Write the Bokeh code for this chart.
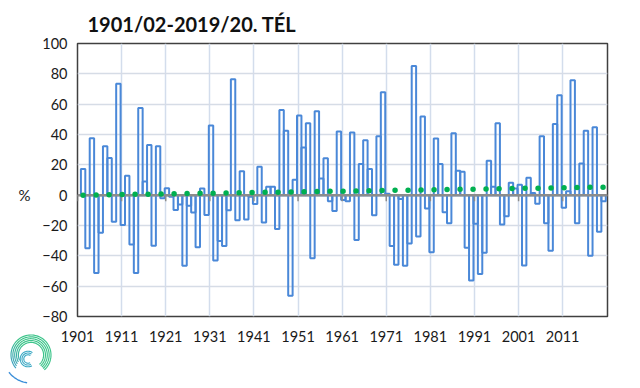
import math
from bokeh.plotting import figure
from bokeh.models import Range1d, FixedTicker, Span, ColumnDataSource, LinearAxis, Div
from bokeh.layouts import column
from bokeh.embed import file_html
from bokeh.resources import INLINE

# ---------------- data ----------------
years = list(range(1901, 2020))  # winters 1901/02 ... 2019/20
precip_anomaly = [
    17.3, -35.0, 37.5, -51.3, -24.7, 32.3, 24.5, -17.6, 73.5, -19.6,    # 1901-1910
    12.8, -32.5, -51.3, 57.5, 9.0, 33.0, -33.3, 32.3, -2.0, 4.6,        # 1911-1920
    -1.0, -9.8, -6.2, -46.5, -7.0, -11.4, -34.4, 4.4, -13.0, 46.0,      # 1921-1930
    -43.0, -30.2, -33.5, -10.0, 76.5, -16.5, 15.8, -16.0, -1.0, -5.8,   # 1931-1940
    18.8, -18.0, 5.6, 5.6, -22.3, 56.2, 42.4, -66.3, 10.2, 52.5,        # 1941-1950
    31.4, 47.5, -41.6, 55.4, 11.0, 24.4, -4.0, -10.4, 42.0, -3.2,       # 1951-1960
    -4.0, 41.4, -29.5, 20.6, 36.2, 17.2, -13.2, 38.8, 67.8, 1.0,        # 1961-1970
    -33.5, -45.8, -2.5, -46.6, -31.8, 85.2, -27.2, 51.8, -8.8, -37.6,   # 1971-1980
    37.3, 20.5, -11.3, -18.5, 40.8, 16.1, 15.5, -34.7, -56.3, -18.8,    # 1981-1990
    -51.9, -38.0, 22.7, 5.5, 47.5, -19.4, -13.9, 8.2, 4.4, 6.8,         # 1991-2000
    -46.4, 11.5, 1.5, -5.7, 38.9, -18.5, -36.6, 47.0, 65.8, -8.3,       # 2001-2010
    2.6, 75.7, -18.5, 20.8, 42.5, -39.9, 44.7, -24.2, -4.0,             # 2011-2019
]
trend_years = [1901, 2019]
trend_values = [0.0, 5.3]
y_ticks = [-80, -60, -40, -20, 0, 20, 40, 60, 80, 100]
x_tick_labels = ["1901", "1911", "1921", "1931", "1941", "1951",
                 "1961", "1971", "1981", "1991", "2001", "2011"]
title_text = "1901/02-2019/20. TÉL"
unit_text = "%"

# ---------------- layout / style ----------------
W, H = 640, 388
ML, MR, MT, MB = 77, 33, 43, 72
X0, X1 = 1899.73, 2019.89
Y0, Y1 = -80, 100
TICK_OFFSET = 1.27
FONT = "Lato"
TXT = "#1a1a1a"
FH = H - MT - MB
px_y = FH / (Y1 - Y0)

p = figure(width=W, height=H, x_range=Range1d(X0, X1), y_range=Range1d(Y0, Y1),
           output_backend="svg", toolbar_location=None,
           min_border_left=ML, min_border_right=MR, min_border_top=MT, min_border_bottom=MB)
p.background_fill_color = "white"
p.border_fill_color = "white"
p.outline_line_color = "#404040"
p.outline_line_width = 1.5

p.title.text = title_text
p.title.text_font = FONT
p.title.text_font_style = "bold"
p.title.text_font_size = "20px"
p.title.text_color = "#111111"
p.title.align = "left"
p.title.offset = 10
p.title.standoff = 15

tick_pos = [int(s) - TICK_OFFSET for s in x_tick_labels]
p.xaxis.ticker = FixedTicker(ticks=tick_pos)
p.xaxis.major_label_overrides = {t: s for t, s in zip(tick_pos, x_tick_labels)}
p.xaxis.axis_line_color = None
p.xaxis.major_tick_line_color = None
p.xaxis.minor_tick_line_color = None
p.xaxis.major_tick_out = 0
p.xaxis.major_label_standoff = 14
p.xaxis.major_label_text_font = FONT
p.xaxis.major_label_text_font_size = "14.5px"
p.xaxis.major_label_text_color = TXT

p.yaxis.ticker = FixedTicker(ticks=y_ticks)
p.yaxis.axis_line_color = None
p.yaxis.major_tick_line_color = None
p.yaxis.minor_tick_line_color = None
p.yaxis.major_tick_out = 0
p.yaxis.major_label_standoff = 10
p.yaxis.major_label_text_font = FONT
p.yaxis.major_label_text_font_size = "14.5px"
p.yaxis.major_label_text_color = TXT

# "%" unit label, placed as an outer left axis labelling the zero level
unit_axis = LinearAxis(ticker=FixedTicker(ticks=[0]), major_label_overrides={0: unit_text},
                       axis_line_color=None, major_tick_line_color=None,
                       minor_tick_line_color=None, major_tick_out=0,
                       major_label_standoff=9, major_label_text_font=FONT,
                       major_label_text_font_size="15px", major_label_text_color=TXT)
p.add_layout(unit_axis, "left")

p.xgrid.ticker = FixedTicker(ticks=tick_pos)
p.xgrid.grid_line_color = "#d3ddec"
p.xgrid.grid_line_width = 1.5
p.ygrid.ticker = FixedTicker(ticks=y_ticks)
p.ygrid.grid_line_color = "#d6dce6"
p.ygrid.grid_line_width = 1.5

src = ColumnDataSource(data=dict(year=years, val=precip_anomaly))
p.vbar(x="year", top="val", bottom=0, width=1, source=src,
       fill_color=None, line_color="#4a88d8", line_width=2)

# small tick marks on the zero axis line
tick_len = 6 / px_y
p.segment(x0=tick_pos, y0=[0] * len(tick_pos), x1=tick_pos, y1=[-tick_len] * len(tick_pos),
          line_color="#8c8c8c", line_width=1.5)

p.add_layout(Span(location=0, dimension="width", line_color="#8c8c8c", line_width=2.5))

p.line(trend_years, trend_values, line_color="#00b050", line_width=5.5,
       line_dash="0 13", line_cap="round", level="overlay")


# ---------------- logo (decorative spiral, inline SVG) ----------------
def arc_path(cx, cy, r, a0, a1, n=40):
    pts = []
    for i in range(n + 1):
        a = math.radians(a0 + (a1 - a0) * i / n)
        pts.append("%.2f %.2f" % (cx + r * math.cos(a), cy - r * math.sin(a)))
    return "M " + " L ".join(pts)


paths = []
for k in range(5):
    r = 12.6 + k * 1.85
    paths.append('<path d="%s" stroke="url(#lg)" stroke-width="1.15" fill="none"/>'
                 % arc_path(25, 22, r, 205 + k * 4, -48, 60))
for k in range(3):
    r = 4.2 + k * 1.8
    paths.append('<path d="%s" stroke="#3aa8c4" stroke-width="1.1" fill="none"/>'
                 % arc_path(22, 26, r, 55, 300, 40))
paths.append('<path d="%s" stroke="#3a8ed8" stroke-width="1.4" fill="none"/>'
             % arc_path(25, 22, 28, 218, 262, 20))
svg = ('<svg width="50" height="54" xmlns="http://www.w3.org/2000/svg">'
       '<defs><linearGradient id="lg" gradientUnits="userSpaceOnUse" x1="4" y1="44" x2="44" y2="4">'
       '<stop offset="0" stop-color="#3a8ed8"/><stop offset="0.55" stop-color="#3cc48a"/>'
       '<stop offset="1" stop-color="#3cc48a"/></linearGradient></defs>'
       + "".join(paths) + '</svg>')
logo = Div(text=svg, width=50, height=54, margin=(-55, 0, 0, 6))

layout = column(p, logo)
open("out.html", "w").write(file_html(layout, INLINE))
